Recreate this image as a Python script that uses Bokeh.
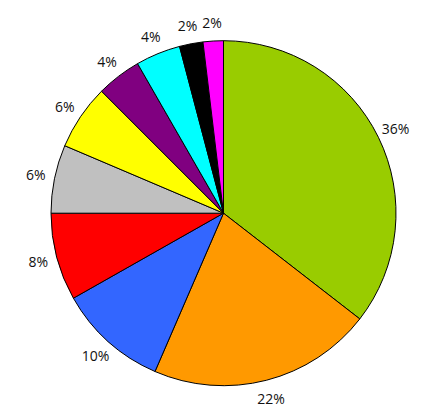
import numpy as np
from bokeh.plotting import figure
from bokeh.models import ColumnDataSource
from bokeh.core.properties import value
from bokeh.embed import file_html
from bokeh.resources import INLINE

shares = [35.5, 21.0, 10.3, 8.2, 6.4, 6.1, 4.2, 4.2, 2.2, 1.9]
labels = ["36%", "22%", "10%", "8%", "6%", "6%", "4%", "4%", "2%", "2%"]
colors = ["#99CC00", "#FF9900", "#3366FF", "#FF0000", "#C0C0C0",
          "#FFFF00", "#800080", "#00FFFF", "#000000", "#FF00FF"]

W, H = 420, 412
cx, cy = 223.0, 212.7  # pie centre in pixels from left/top
R = 172.5

frac = np.array(shares) / sum(shares)
cum = np.concatenate([[0], np.cumsum(frac)])
start = np.pi / 2 - 2 * np.pi * cum[:-1]
end = np.pi / 2 - 2 * np.pi * cum[1:]
mid = (start + end) / 2

src = ColumnDataSource(dict(start=start, end=end, color=colors,
                            x=[0] * len(shares), y=[0] * len(shares)))

p = figure(width=W, height=H, output_backend="svg", toolbar_location=None,
           x_range=(-cx, W - cx), y_range=(-(H - cy), cy),
           min_border=0, outline_line_color=None)
p.axis.visible = False
p.grid.visible = False
p.background_fill_color = "white"

p.wedge(x="x", y="y", radius=R, start_angle="start", end_angle="end",
        direction="clock", fill_color="color", line_color="black",
        line_width=1, source=src)

lr = R * 1.11
lsrc = ColumnDataSource(dict(x=lr * np.cos(mid), y=lr * np.sin(mid), text=labels))
p.text(x="x", y="y", text="text", source=lsrc, text_align="center",
       text_baseline="middle", text_font=value("Open Sans"),
       text_font_size="14px", text_color="#111111")

open("out.html", "w").write(file_html(p, INLINE))
